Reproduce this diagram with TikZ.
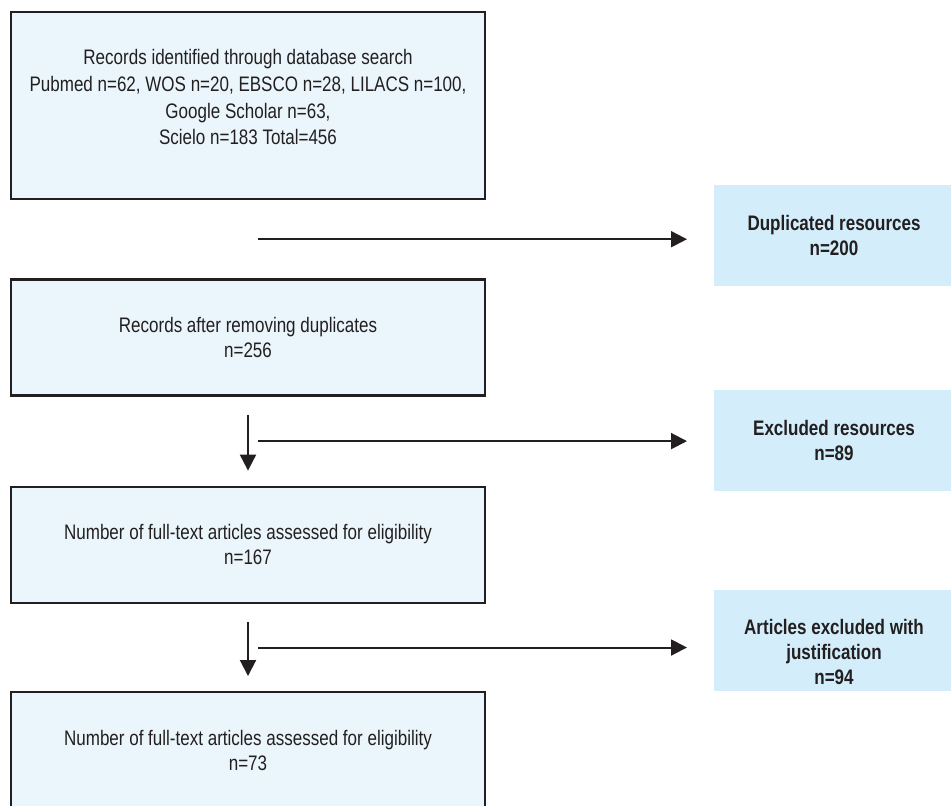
\documentclass[tikz,border=0pt]{standalone}
\usepackage{fontspec}
\setmainfont{Liberation Sans}[FakeStretch=0.81]
\usetikzlibrary{positioning,arrows.meta,calc}
\definecolor{boxfill}{HTML}{EAF6FC}
\definecolor{outfill}{HTML}{D3EEFA}
\definecolor{ink}{HTML}{231F20}
\def\dx{5pt}
\def\dy{40pt}
\tikzstyle{record}=[draw=ink,line width=1.2pt,fill=boxfill,text=ink,align=center,
  font=\fontsize{10.5}{12.5}\selectfont,
  minimum width=237pt,minimum height=58pt]
\tikzstyle{removed}=[fill=outfill,text=ink,align=center,
  font=\fontsize{10.5}{12.5}\selectfont\bfseries,
  minimum width=120pt,minimum height=50.5pt]
\newcommand{\newRecord}[4]{\node[record,#3](#1)[#4]{#2};}
\newcommand{\newRemoved}[3]{\node[removed](#1) at (#3) {#2};}
\newcommand{\newFork}[3]{\coordinate (#1) at ($(#2.south)!.5!(#3.north)+(\dx,0)$);}
% positive #1 lifts the lines by #1/2, negative drops them
\newcommand{\shiftLines}[2]{\raisebox{0pt}[\height][\dimexpr\depth+#1\relax]{%
  \begin{tabular}{@{}c@{}}#2\end{tabular}}}

\begin{document}
\begin{tikzpicture}[node distance=\dy and \dx,
  >={Triangle[length=8pt,width=8pt]},line width=1pt
  ]
  \useasboundingbox (0,0) rectangle (475.5pt,-402.5pt);
  % left column
  \newRecord{search}{\shiftLines{6pt}{Records identified through database search\\
    Pubmed n=62, WOS n=20, EBSCO n=28, LILACS n=100,\\
    Google Scholar n=63,\\
    Scielo n=183 Total=456}}{minimum height=93.5pt,
    font=\fontsize{10.5}{13.3}\selectfont}{at={(124pt,-52.75pt)}}
  \newRecord{dedup}{Records after removing duplicates\\n=256}{}{below=39pt of search}
  \newRecord{fulltext}{Number of full-text articles assessed for eligibility\\n=167}{}{below=44.5pt of dedup}
  \newRecord{included}{Number of full-text articles assessed for eligibility\\n=73}{}{below=43.5pt of fulltext}
  % right column
  \newRemoved{dup}{Duplicated resources\\n=200}{417pt,-117.75pt}
  \newRemoved{excl}{Excluded resources\\n=89}{417pt,-220pt}
  \newRemoved{just}{\shiftLines{-14pt}{Articles excluded with\\justification\\n=94}}{417pt,-320pt}
  % arrows
  \newFork{f1}{search}{dedup}
  \newFork{f2}{dedup}{fulltext}
  \newFork{f3}{fulltext}{included}
  \draw[ink,->,shorten >=13pt] (f1) -- (f1 -| dup.west);
  \draw[ink,->,shorten <=9pt,shorten >=7.5pt] (dedup) -- (fulltext);
  \draw[ink,->,shorten >=13pt] (f2) -- (f2 -| excl.west);
  \draw[ink,->,shorten <=9pt,shorten >=7.5pt] (fulltext) -- (included);
  \draw[ink,->,shorten >=13pt] (f3) -- (f3 -| just.west);
\end{tikzpicture}
\end{document}
